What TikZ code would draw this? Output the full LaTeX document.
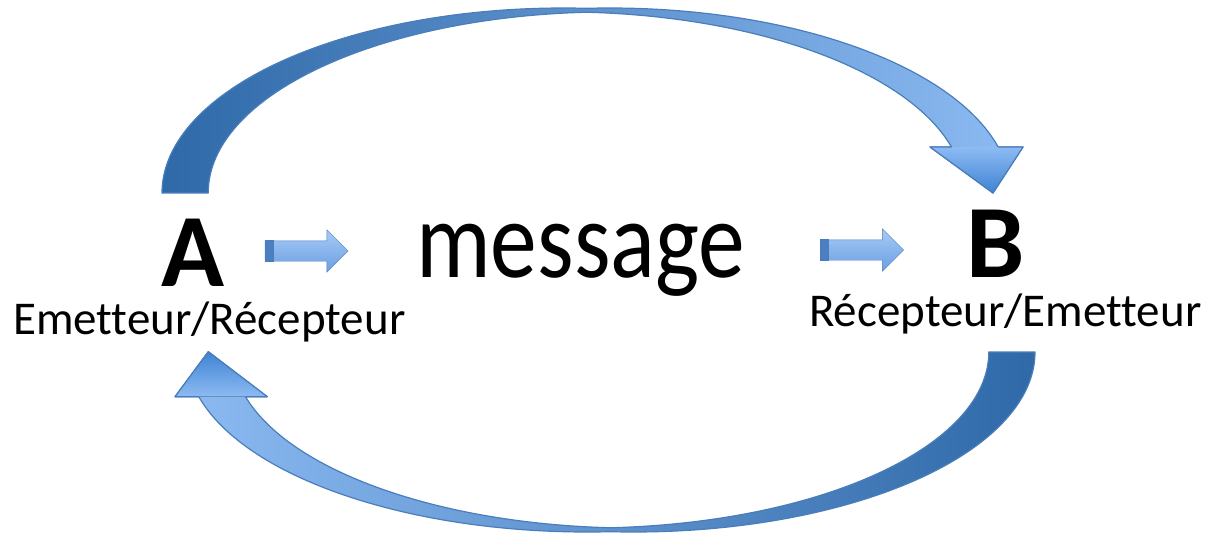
\documentclass[tikz,border=0pt]{standalone}
\usepackage{fontspec}
\setmainfont{Carlito}[Ligatures=NoCommon]
\usepackage{graphicx}
\usepackage{tikz}
\usetikzlibrary{shapes.arrows, positioning}
\definecolor{darkblue}{HTML}{2F69A8}
\definecolor{lightblue}{HTML}{8DBBF3}
\definecolor{tipblue}{HTML}{3F83D3}
\definecolor{edgeblue}{HTML}{4A7EBB}
\definecolor{stripblue}{HTML}{4B7FC1}
\definecolor{flowtop}{HTML}{A6CAF7}
\definecolor{flowbottom}{HTML}{6C9FE2}
\tikzstyle{letter} = [inner sep=0pt, font=\fontsize{104}{110}\selectfont\bfseries]
\tikzstyle{role} = [inner sep=0pt, font=\fontsize{47}{50}\selectfont]
\tikzstyle{flow} = [single arrow, draw=edgeblue, top color=flowtop, bottom color=flowbottom, minimum height=83pt, inner xsep=0pt, inner ysep=10pt, single arrow head extend=11pt, single arrow tip angle=90, single arrow head indent=0pt]
\tikzstyle{outline} = [draw=edgeblue, line width=1.2pt, line join=round]

\begin{document}
\begin{tikzpicture}[x=1pt, y=1pt]
    \useasboundingbox (0,0) rectangle (1218,-533);
    % A -> B over the top
    \path[outline, left color=darkblue, right color=lightblue]
        (162,-193) arc[start angle=180, end angle=86.7, x radius=401.3, y radius=185]
        arc[start angle=93.3, end angle=14.4, x radius=401.3, y radius=185]
        -- (1023,-147) -- (993,-193) -- (930,-147) -- (951.5,-147)
        arc[start angle=14.7, end angle=86.7, x radius=401.3, y radius=181]
        arc[start angle=93.3, end angle=180, x radius=401.3, y radius=181] -- cycle;
    \fill[top color=lightblue, bottom color=tipblue] (998.2,-147) -- (1023,-147) -- (993,-193) -- (930,-147) -- (951.5,-147) -- cycle;
    \draw[outline] (998.2,-147) -- (1023,-147) -- (993,-193) -- (930,-147) -- (951.5,-147);
    % B -> A under the bottom
    \path[outline, left color=lightblue, right color=darkblue]
        (1035,-352) arc[start angle=0, end angle=-93.3, x radius=401.3, y radius=180]
        arc[start angle=-86.7, end angle=-165.6, x radius=401.3, y radius=180]
        -- (175,-396.7) -- (208.3,-351.7) -- (267.3,-396.7) -- (245.5,-396.7)
        arc[start angle=-165.3, end angle=-93.3, x radius=401.3, y radius=176]
        arc[start angle=-86.7, end angle=0, x radius=401.3, y radius=176] -- cycle;
    \fill[top color=tipblue, bottom color=lightblue] (198.8,-396.7) -- (175,-396.7) -- (208.3,-351.7) -- (267.3,-396.7) -- (245.5,-396.7) -- cycle;
    \draw[outline] (198.8,-396.7) -- (175,-396.7) -- (208.3,-351.7) -- (267.3,-396.7) -- (245.5,-396.7);

    \node [letter, anchor=base west] (A) at (161,-286) {A};
    \node [role, anchor=base west] (emA) at (13,-334) {Emetteur/Récepteur};
    \node [anchor=base west, inner sep=0pt, font=\fontsize{110}{120}\selectfont] (msg) at (416,-277) {\scalebox{0.85}[1]{message}};
    \node [letter, anchor=base west] (B) at (966,-277) {B};
    \node [role, anchor=base west] (recB) at (809,-326) {Récepteur/Emetteur};

    \node [flow] (toMsg) at (301.5,-251) {};
    \node [flow] (toB) at (857,-250) {};
    \filldraw[stripblue, draw=edgeblue] (toMsg.before tail) rectangle ([xshift=8pt]toMsg.after tail);
    \filldraw[stripblue, draw=edgeblue] (toB.before tail) rectangle ([xshift=8pt]toB.after tail);
\end{tikzpicture}
\end{document}
